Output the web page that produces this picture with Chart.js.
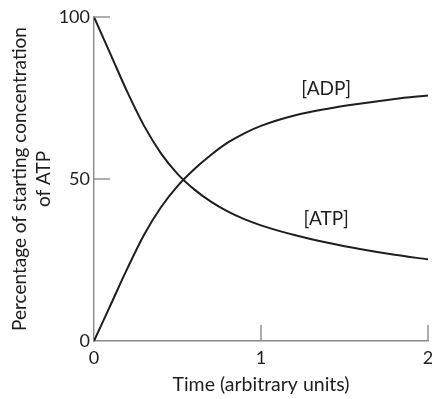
<!DOCTYPE html>
<html>
<head>
<meta charset="utf-8">
<script src="https://cdn.jsdelivr.net/npm/chart.js@4"></script>
<style>
  html, body { margin: 0; padding: 0; background: #fff; }
  #wrap { width: 432px; height: 399px; }
</style>
</head>
<body>
<div id="wrap"><canvas id="chart" width="432" height="399"></canvas></div>
<script>
// values
const times = [0, 0.1, 0.2, 0.3, 0.4, 0.5, 0.6, 0.7, 0.8, 0.9, 1.0, 1.2, 1.4, 1.6, 1.8, 2.0];
const atp = [100, 88.4, 76.8, 66.4, 58, 51.6, 46.8, 43, 40, 37.6, 35.7, 32.7, 30.3, 28.3, 26.6, 25.2];
const adp = [0, 11.2, 22.4, 32.8, 41.2, 47.8, 53, 57.4, 61.2, 64.1, 66.4, 69.6, 71.7, 73.3, 74.7, 75.8];
const xTicks = [0, 1, 2];
const yTicks = [0, 50, 100];
const curveLabels = [
  { text: '[ADP]', x: 1.39, y: 77.8 },
  { text: '[ATP]', x: 1.39, y: 37.6 }
];

const font = '"Lato", "Open Sans", sans-serif';
const axisGrey = '#8a8a8a';
const ink = '#1e1e1e';

function points(ys) {
  return times.map(function (t, i) { return { x: t, y: ys[i] }; });
}

// tick marks point into the plot, so draw them from the scales
const innerTicks = {
  id: 'innerTicks',
  afterDraw: function (chart) {
    const ctx = chart.ctx, xs = chart.scales.x, ys = chart.scales.y;
    ctx.save();
    ctx.strokeStyle = axisGrey;
    ctx.lineWidth = 1.4;
    yTicks.forEach(function (v) {
      if (v === 0) return;
      const py = ys.getPixelForValue(v);
      ctx.beginPath();
      ctx.moveTo(xs.left, py);
      ctx.lineTo(xs.left + 16, py);
      ctx.stroke();
    });
    xTicks.forEach(function (v) {
      if (v === 0) return;
      const px = xs.getPixelForValue(v);
      ctx.beginPath();
      ctx.moveTo(px, ys.bottom);
      ctx.lineTo(px, ys.bottom - 16);
      ctx.stroke();
    });
    ctx.fillStyle = ink;
    ctx.font = '19px ' + font;
    ctx.textAlign = 'center';
    ctx.textBaseline = 'middle';
    curveLabels.forEach(function (l) {
      ctx.fillText(l.text, xs.getPixelForValue(l.x), ys.getPixelForValue(l.y));
    });
    ctx.restore();
  }
};

new Chart(document.getElementById('chart'), {
  type: 'line',
  data: {
    datasets: [
      { label: 'ATP', data: points(atp), borderColor: ink, borderWidth: 2, pointRadius: 0, cubicInterpolationMode: 'monotone', fill: false },
      { label: 'ADP', data: points(adp), borderColor: ink, borderWidth: 2, pointRadius: 0, cubicInterpolationMode: 'monotone', fill: false }
    ]
  },
  options: {
    responsive: false,
    animation: false,
    layout: { padding: { top: 17, right: 4, left: 0, bottom: 0 } },
    plugins: { legend: { display: false }, tooltip: { enabled: false } },
    scales: {
      x: {
        type: 'linear',
        min: 0,
        max: 2,
        afterBuildTicks: function (s) { s.ticks = xTicks.map(function (v) { return { value: v }; }); },
        grid: { drawOnChartArea: false, drawTicks: false },
        border: { display: true, color: axisGrey, width: 1.4 },
        ticks: { color: ink, font: { family: font, size: 18 }, padding: 6, maxRotation: 0 },
        title: { display: true, text: 'Time (arbitrary units)', color: ink, font: { family: font, size: 19.5, lineHeight: 1.25 }, padding: { top: 0, bottom: 2 } },
        afterFit: function (s) { s.height = 58; s.paddingLeft = 0; s.paddingRight = 0; }
      },
      y: {
        min: 0,
        max: 100,
        afterBuildTicks: function (s) { s.ticks = yTicks.map(function (v) { return { value: v }; }); },
        grid: { drawOnChartArea: false, drawTicks: false },
        border: { display: true, color: axisGrey, width: 1.4 },
        ticks: { color: ink, font: { family: font, size: 18 }, padding: 4 },
        title: { display: true, text: ['Percentage of starting concentration', 'of ATP'], color: ink, font: { family: font, size: 19, lineHeight: 1.26 }, padding: { top: 8, bottom: 0 } },
        afterFit: function (s) { s.width = 94; s.paddingTop = 0; s.paddingBottom = 0; }
      }
    }
  },
  plugins: [innerTicks]
});
</script>
</body>
</html>
